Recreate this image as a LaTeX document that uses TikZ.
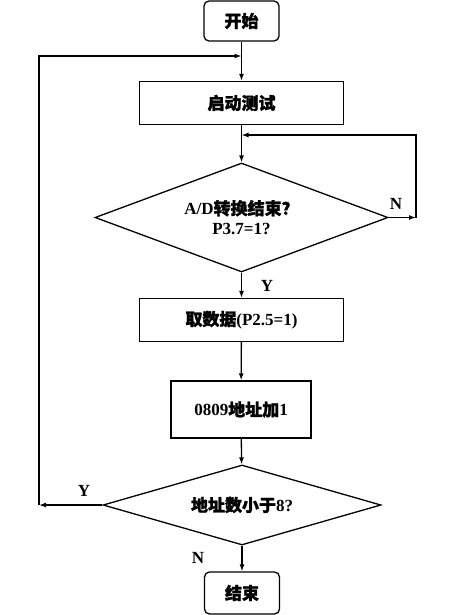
\documentclass[tikz,border=0pt]{standalone}
\usepackage{fontspec}
\setmainfont{Liberation Serif}
\newfontfamily\cjk{Noto Sans CJK SC}[FakeBold=1.5]

\usetikzlibrary{shapes.geometric,arrows.meta}

\tikzset{
  term/.style={draw, rounded corners=5pt, inner sep=0pt, minimum width=75pt, minimum height=40pt},
  stepbox/.style={draw, inner sep=0pt, minimum width=204pt, minimum height=43pt},
  test/.style={draw, diamond, inner sep=0pt, align=center},
  arr/.style={-{Latex[length=7pt,width=5pt]}},
  lab/.style={font=\fontsize{17}{19}\selectfont\bfseries}
}

\begin{document}
\begin{tikzpicture}[x=1pt, y=-1pt, line width=1.3pt, font=\fontsize{17}{20}\selectfont\bfseries]
        \useasboundingbox (0,0) rectangle (461,615);
        \node (start) at (241.5, 21) [term] {\cjk 开始};
        \node (adc) at (241.5, 103) [stepbox] {\cjk 启动测试};
        \node (eoc) at (241.5, 217.5) [test, minimum width=293pt, minimum height=109pt, aspect=2.7]
              {A/D{\cjk 转换结束？}\\P3.7=1?};
        \node (read) at (241.5, 320) [stepbox] {{\cjk 取数据}(P2.5=1)};
        \node (inc) at (241, 409.5) [stepbox, minimum width=140pt, minimum height=57pt] {0809{\cjk 地址加}1};
        \node (cnt) at (242, 505) [test, minimum width=278pt, minimum height=80pt, aspect=3.5] {{\cjk 地址数小于}8?};
        \node (stop) at (242, 593) [term, minimum height=42pt] {\cjk 结束};

        \coordinate (ywait) at (416, 217.5);
        \coordinate (njoin) at (241.5, 135);
        \coordinate (yturn) at (39, 505);
        \coordinate (yjoin) at (241.5, 56);

        \draw [arr] (start) -- (adc);
        \draw [arr] (adc) -- (eoc);
        \draw [arr] (eoc.east) -- (ywait);
        \draw [arr] (ywait) |- (njoin);
        \draw [arr] (eoc) -- (read);
        \draw [arr] (read) -- (inc);
        \draw [arr] (inc) -- (cnt);
        \draw [arr] (cnt.west) -- (yturn);
        \draw [arr] (yturn) |- (yjoin);
        \draw [arr] (cnt) -- (stop);

        \node (n1) at (396, 204) [lab] {N};
        \node (y1) at (267, 286) [lab] {Y};
        \node (y2) at (84, 491) [lab] {Y};
        \node (n2) at (198, 558) [lab] {N};
      \end{tikzpicture}
\end{document}
